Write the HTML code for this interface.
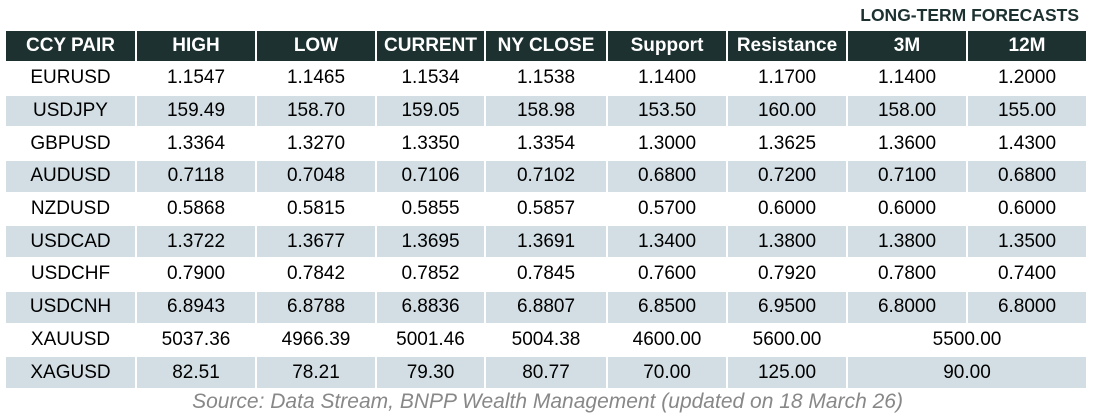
<!DOCTYPE html>
<html><head><style>
body{margin:0;width:1095px;height:420px;background:#fff;font-family:"Liberation Sans",Arial,sans-serif;position:relative;overflow:hidden}
.lt{position:absolute;right:16px;top:5px;font-weight:bold;font-size:17.5px;color:#1c3130}
table{position:absolute;left:4px;top:29px;border-collapse:separate;border-spacing:2px;}
td,th{text-align:center;padding:0;font-size:19px;color:#000;white-space:nowrap}
th{background:#1c3130;color:#fff;font-size:19px;height:30px;font-weight:bold}
td{height:30.7px}
tr.s td{background:#d2dee4}
.src{position:absolute;left:0;width:1095px;top:390px;text-align:center;font-style:italic;color:#888;font-size:21px}
</style></head><body>
<div class="lt">LONG-TERM FORECASTS</div>
<table>
<tr><th style="width:129px">CCY PAIR</th><th style="width:118px">HIGH</th><th style="width:118px">LOW</th><th style="width:107px">CURRENT</th><th style="width:120px">NY CLOSE</th><th style="width:118px">Support</th><th style="width:118px">Resistance</th><th style="width:118px">3M</th><th style="width:118px">12M</th></tr>
<tr><td>EURUSD</td><td>1.1547</td><td>1.1465</td><td>1.1534</td><td>1.1538</td><td>1.1400</td><td>1.1700</td><td>1.1400</td><td>1.2000</td></tr>
<tr class="s"><td>USDJPY</td><td>159.49</td><td>158.70</td><td>159.05</td><td>158.98</td><td>153.50</td><td>160.00</td><td>158.00</td><td>155.00</td></tr>
<tr><td>GBPUSD</td><td>1.3364</td><td>1.3270</td><td>1.3350</td><td>1.3354</td><td>1.3000</td><td>1.3625</td><td>1.3600</td><td>1.4300</td></tr>
<tr class="s"><td>AUDUSD</td><td>0.7118</td><td>0.7048</td><td>0.7106</td><td>0.7102</td><td>0.6800</td><td>0.7200</td><td>0.7100</td><td>0.6800</td></tr>
<tr><td>NZDUSD</td><td>0.5868</td><td>0.5815</td><td>0.5855</td><td>0.5857</td><td>0.5700</td><td>0.6000</td><td>0.6000</td><td>0.6000</td></tr>
<tr class="s"><td>USDCAD</td><td>1.3722</td><td>1.3677</td><td>1.3695</td><td>1.3691</td><td>1.3400</td><td>1.3800</td><td>1.3800</td><td>1.3500</td></tr>
<tr><td>USDCHF</td><td>0.7900</td><td>0.7842</td><td>0.7852</td><td>0.7845</td><td>0.7600</td><td>0.7920</td><td>0.7800</td><td>0.7400</td></tr>
<tr class="s"><td>USDCNH</td><td>6.8943</td><td>6.8788</td><td>6.8836</td><td>6.8807</td><td>6.8500</td><td>6.9500</td><td>6.8000</td><td>6.8000</td></tr>
<tr><td>XAUUSD</td><td>5037.36</td><td>4966.39</td><td>5001.46</td><td>5004.38</td><td>4600.00</td><td>5600.00</td><td colspan="2">5500.00</td></tr>
<tr class="s"><td>XAGUSD</td><td>82.51</td><td>78.21</td><td>79.30</td><td>80.77</td><td>70.00</td><td>125.00</td><td colspan="2">90.00</td></tr>
</table>
<div class="src">Source: Data Stream, BNPP Wealth Management (updated on 18 March 26)</div>
</body></html>
